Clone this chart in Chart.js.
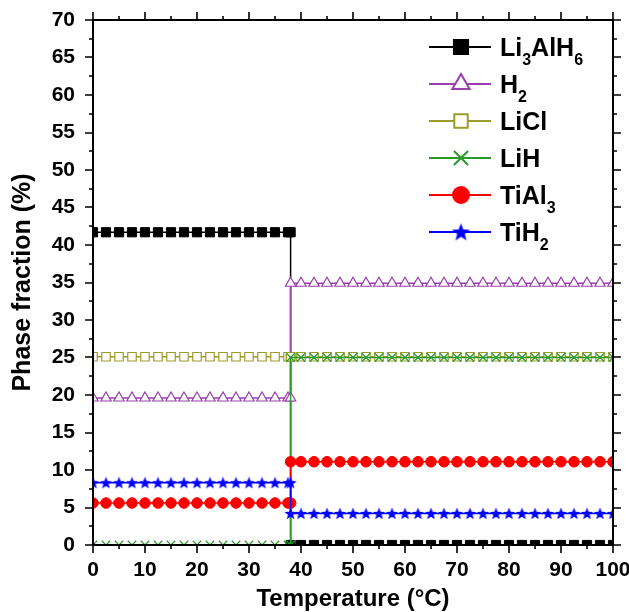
<!DOCTYPE html>
<html>
<head>
<meta charset="utf-8">
<script src="https://cdn.jsdelivr.net/npm/chart.js@4/dist/chart.umd.min.js"></script>
<style>
html,body{margin:0;padding:0;background:#fff;}
#wrap{position:relative;width:629px;height:612px;}
</style>
</head>
<body>
<div id="wrap"><canvas id="c" width="629" height="612"></canvas></div>
<script>
// ---- Data ----
const temperatures = [0,2.5,5,7.5,10,12.5,15,17.5,20,22.5,25,27.5,30,32.5,35,37.5,38,
                      38,40,42.5,45,47.5,50,52.5,55,57.5,60,62.5,65,67.5,70,72.5,75,77.5,80,82.5,85,87.5,90,92.5,95,97.5,100];
const li3alh6 = [41.7,41.7,41.7,41.7,41.7,41.7,41.7,41.7,41.7,41.7,41.7,41.7,41.7,41.7,41.7,41.7,41.7,
                 0,0,0,0,0,0,0,0,0,0,0,0,0,0,0,0,0,0,0,0,0,0,0,0,0,0];
const h2 = [19.6,19.6,19.6,19.6,19.6,19.6,19.6,19.6,19.6,19.6,19.6,19.6,19.6,19.6,19.6,19.6,19.6,
            34.9,34.9,34.9,34.9,34.9,34.9,34.9,34.9,34.9,34.9,34.9,34.9,34.9,34.9,34.9,34.9,34.9,34.9,34.9,34.9,34.9,34.9,34.9,34.9,34.9,34.9];
const licl = [25.1,25.1,25.1,25.1,25.1,25.1,25.1,25.1,25.1,25.1,25.1,25.1,25.1,25.1,25.1,25.1,25.1,
              25.1,25.1,25.1,25.1,25.1,25.1,25.1,25.1,25.1,25.1,25.1,25.1,25.1,25.1,25.1,25.1,25.1,25.1,25.1,25.1,25.1,25.1,25.1,25.1,25.1,25.1];
const lih = [0,0,0,0,0,0,0,0,0,0,0,0,0,0,0,0,0,
             25.0,25.0,25.0,25.0,25.0,25.0,25.0,25.0,25.0,25.0,25.0,25.0,25.0,25.0,25.0,25.0,25.0,25.0,25.0,25.0,25.0,25.0,25.0,25.0,25.0,25.0];
const tial3 = [5.6,5.6,5.6,5.6,5.6,5.6,5.6,5.6,5.6,5.6,5.6,5.6,5.6,5.6,5.6,5.6,5.6,
               11.1,11.1,11.1,11.1,11.1,11.1,11.1,11.1,11.1,11.1,11.1,11.1,11.1,11.1,11.1,11.1,11.1,11.1,11.1,11.1,11.1,11.1,11.1,11.1,11.1,11.1];
const tih2 = [8.3,8.3,8.3,8.3,8.3,8.3,8.3,8.3,8.3,8.3,8.3,8.3,8.3,8.3,8.3,8.3,8.3,
              4.2,4.2,4.2,4.2,4.2,4.2,4.2,4.2,4.2,4.2,4.2,4.2,4.2,4.2,4.2,4.2,4.2,4.2,4.2,4.2,4.2,4.2,4.2,4.2,4.2,4.2];
const seriesNames = [["Li","3","AlH","6"],["H","2"],["LiCl"],["LiH"],["TiAl","3"],["TiH","2"]];
const xTickLabels = ["0","10","20","30","40","50","60","70","80","90","100"];
const yTickLabels = ["0","5","10","15","20","25","30","35","40","45","50","55","60","65","70"];

const FONT = "'Liberation Sans', Arial, sans-serif";

function makeStar(size, color){
  const cv = document.createElement('canvas');
  cv.width = size; cv.height = size;
  const g = cv.getContext('2d');
  const cx = size/2, cy = size/2 + size*0.04, R = size/2, r = R*0.42;
  g.beginPath();
  for(let i=0;i<10;i++){
    const a = -Math.PI/2 + i*Math.PI/5;
    const rr = i%2===0 ? R : r;
    g.lineTo(cx + rr*Math.cos(a), cy + rr*Math.sin(a));
  }
  g.closePath();
  g.fillStyle = color; g.fill();
  return cv;
}
const starSmall = makeStar(13, '#0000ff');
const starBig = makeStar(19, '#0000ff');

function pts(vals){ return temperatures.map((t,i)=>({x:t,y:vals[i]})); }

const specs = [
  {vals:li3alh6, color:'#000000', style:'rect', r:6.5, fill:'#000000', bw:1, order:5, legendR:10},
  {vals:h2, color:'#9a3fae', style:'triangle', r:6, fill:'#ffffff', bw:1.2, order:4, legendR:10},
  {vals:licl, color:'#9c9c2a', style:'rect', r:6, fill:'#ffffff', bw:1.2, order:3, legendR:9.5},
  {vals:lih, color:'#2a9a2a', style:'crossRot', r:6, fill:'#2a9a2a', bw:1.2, order:2, legendR:10},
  {vals:tial3, color:'#ff0000', style:'circle', r:5.3, fill:'#ff0000', bw:1, order:1, legendR:8},
  {vals:tih2, color:'#0000ff', style:starSmall, r:6, fill:'#0000ff', bw:1, order:0, legendR:9, legendStyle:starBig}
];

const datasets = specs.map((s,i)=>({
  label: seriesNames[i].join(''),
  data: pts(s.vals),
  borderColor: s.color,
  backgroundColor: s.fill,
  borderWidth: 1.5,
  pointStyle: s.style,
  pointRadius: s.r,
  pointBorderColor: s.color,
  pointBackgroundColor: s.fill,
  pointBorderWidth: s.bw,
  tension: 0,
  order: s.order,
  clip: 1
}));

const frameTicks = {
  id: 'frameTicks',
  afterDraw(chart){
    const ctx = chart.ctx, a = chart.chartArea;
    const xs = chart.scales.x, ys = chart.scales.y;
    ctx.save();
    ctx.strokeStyle = '#000'; ctx.lineWidth = 2;
    ctx.beginPath();
    ctx.rect(a.left, a.top, a.right - a.left, a.bottom - a.top);
    ctx.stroke();
    ctx.lineWidth = 1.6;
    ctx.beginPath();
    for(let v=xs.min; v<=xs.max+1e-9; v+=5){
      const major = Math.abs(v % 10) < 1e-9;
      const L = major ? 8 : 4;
      const px = Math.round(xs.getPixelForValue(v));
      ctx.moveTo(px, a.bottom); ctx.lineTo(px, a.bottom + L);
      ctx.moveTo(px, a.top); ctx.lineTo(px, a.top - L);
    }
    for(let v=ys.min; v<=ys.max+1e-9; v+=2.5){
      const major = Math.abs(v % 5) < 1e-9;
      const L = major ? 8 : 4;
      const py = Math.round(ys.getPixelForValue(v));
      ctx.moveTo(a.left, py); ctx.lineTo(a.left - L, py);
      ctx.moveTo(a.right, py); ctx.lineTo(a.right + L, py);
    }
    ctx.stroke();
    ctx.restore();
  }
};

const customLegend = {
  id: 'customLegend',
  afterDraw(chart){
    const ctx = chart.ctx;
    const x0 = 429, x1 = 491, mx = 461, tx = 500, y0 = 47, dy = 37;
    ctx.save();
    specs.forEach((s,i)=>{
      const y = y0 + i*dy;
      ctx.strokeStyle = s.color; ctx.lineWidth = 2;
      ctx.beginPath(); ctx.moveTo(x0,y); ctx.lineTo(x1,y); ctx.stroke();
      ctx.fillStyle = s.fill; ctx.strokeStyle = s.color;
      Chart.helpers.drawPoint(ctx, {pointStyle: s.legendStyle || s.style, radius: s.legendR, borderWidth: s.bw*1.5, rotation:0}, mx, y);
      let x = tx;
      ctx.fillStyle = '#000';
      ctx.textBaseline = 'alphabetic';
      seriesNames[i].forEach((part,k)=>{
        const sub = k%2===1;
        ctx.font = 'bold ' + (sub?16:25) + 'px ' + FONT;
        const by = sub ? y + 18 : y + 9;
        ctx.fillText(part, x, by);
        x += ctx.measureText(part).width;
      });
    });
    ctx.restore();
  }
};

new Chart(document.getElementById('c'), {
  type: 'line',
  data: { datasets },
  options: {
    responsive: false,
    animation: false,
    devicePixelRatio: 1,
    layout: { padding: { top: 20, right: 16, left: 0, bottom: 0 } },
    plugins: { legend: { display: false }, tooltip: { enabled: false } },
    scales: {
      x: {
        type: 'linear', min: 0, max: 100,
        grid: { display: false },
        border: { display: false },
        ticks: { stepSize: 10, color: '#000', font: { family: FONT, size: 21, weight: 'bold' }, padding: 5, maxRotation: 0,
                 callback: (v,i)=> xTickLabels[i] },
        title: { display: true, text: 'Temperature (°C)', color: '#000', font: { family: FONT, size: 24, weight: 'bold', lineHeight: 1 }, padding: { top: 0, bottom: 1 } },
        afterFit: s => { s.height = 67; s.paddingRight = 0; s.paddingLeft = 0; }
      },
      y: {
        type: 'linear', min: 0, max: 70,
        grid: { display: false },
        border: { display: false },
        ticks: { stepSize: 5, color: '#000', font: { family: FONT, size: 21, weight: 'bold' }, padding: 10,
                 callback: (v,i)=> yTickLabels[i] },
        title: { display: true, text: 'Phase fraction (%)', color: '#000', font: { family: FONT, size: 25, weight: 'bold', lineHeight: 1 }, padding: { top: 11, bottom: 0 } },
        afterFit: s => { s.width = 93; s.paddingTop = 0; s.paddingBottom = 0; }
      }
    }
  },
  plugins: [frameTicks, customLegend]
});
</script>
</body>
</html>
